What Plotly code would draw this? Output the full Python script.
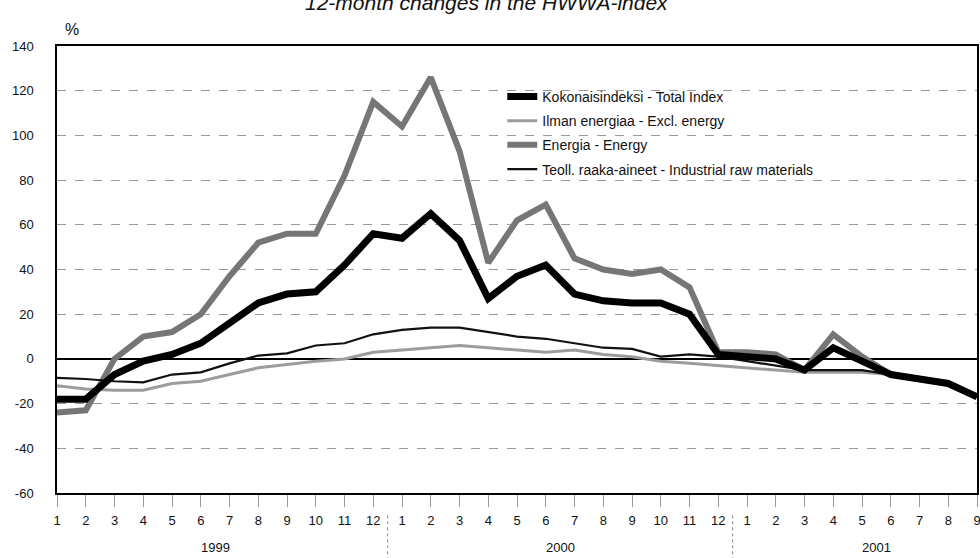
import plotly.graph_objects as go

month_labels = ["1","2","3","4","5","6","7","8","9","10","11","12",
                "1","2","3","4","5","6","7","8","9","10","11","12",
                "1","2","3","4","5","6","7","8","9"]
years = ["1999", "2000", "2001"]
y_ticks = [-60, -40, -20, 0, 20, 40, 60, 80, 100, 120, 140]

total_index = [-18, -18, -7, -1, 2, 7, 16, 25, 29, 30, 42, 56,
               54, 65, 53, 27, 37, 42, 29, 26, 25, 25, 20, 2,
               1, 0, -5, 5, -1, -7, -9, -11, -17]
excl_energy = [-12, -13.5, -14, -14, -11, -10, -7, -4, -2.5, -1, 0, 3,
               4, 5, 6, 5, 4, 3, 4, 2, 1, -1, -2, -3,
               -4, -5, -6, -6, -6, -7, -9, -11, -16]
energy = [-24, -23, 0, 10, 12, 20, 37, 52, 56, 56, 82, 115,
          104, 126, 93, 43, 62, 69, 45, 40, 38, 40, 32, 3,
          3, 2, -5, 11, 1, -7, -9, -11, -17]
industrial = [-8.5, -9, -10, -10.5, -7, -6, -2, 1.5, 2.5, 6, 7, 11,
              13, 14, 14, 12, 10, 9, 7, 5, 4.5, 1, 2, 1,
              -1, -3, -5, -5, -5, -7, -9, -11, -17]

names = ["Kokonaisindeksi - Total Index", "Ilman energiaa - Excl. energy",
         "Energia - Energy", "Teoll. raaka-aineet - Industrial raw materials"]

x = list(range(len(month_labels)))
font = "Liberation Sans, Arial, sans-serif"

fig = go.Figure()
fig.add_trace(go.Scatter(x=x, y=energy, name=names[2], mode="lines", legendgroup="c",
                         line=dict(color="#767676", width=6), legendrank=3))
fig.add_trace(go.Scatter(x=x, y=excl_energy, name=names[1], mode="lines", legendgroup="b",
                         line=dict(color="#9c9c9c", width=3), legendrank=2))
fig.add_trace(go.Scatter(x=x, y=industrial, name=names[3], mode="lines", legendgroup="d",
                         line=dict(color="#111111", width=2.2), legendrank=4))
fig.add_trace(go.Scatter(x=x, y=total_index, name=names[0], mode="lines", legendgroup="a",
                         line=dict(color="#000000", width=7), legendrank=1))

# year labels and separators
year_centers = [5.5, 17.5, 28.5]
for yr, xc in zip(years, year_centers):
    fig.add_annotation(x=xc, xref="x", y=-0.143, yref="paper", text=yr,
                       showarrow=False, font=dict(size=13, color="#111", family=font))
for xs in [11.5, 23.5]:
    fig.add_shape(type="line", xref="x", yref="paper", x0=xs, x1=xs, y0=-0.05, y1=-0.15,
                  line=dict(color="#888", width=1, dash="dot"))

fig.add_annotation(x=0.467, xref="paper", y=1.098, yref="paper", yanchor="middle",
                   text="<i>12-month changes in the HWWA-index</i>", showarrow=False,
                   font=dict(size=21, color="#111", family=font))
fig.add_annotation(x=0.006, xref="paper", y=1.036, yref="paper", text="%",
                   showarrow=False, xanchor="left", yanchor="middle",
                   font=dict(size=16, color="#111", family=font))

fig.update_layout(
    template="none",
    width=980, height=558,
    margin=dict(l=57, r=3, t=46, b=65, autoexpand=False),
    paper_bgcolor="white", plot_bgcolor="white",
    font=dict(family=font, size=13, color="#111"),
    showlegend=True,
    legend=dict(x=0.484, y=0.922, xanchor="left", yanchor="top",
                bgcolor="rgba(0,0,0,0)", font=dict(size=14, color="#111", family=font),
                itemwidth=30, traceorder="grouped", tracegroupgap=3),
)
fig.update_xaxes(range=[0, 32], tickvals=x, ticktext=month_labels, showgrid=False,
                 automargin=False, ticklabeloverflow="allow",
                 showline=True, linecolor="black", linewidth=1.5, mirror=True,
                 ticks="outside", ticklen=12, tickcolor="#999", tickwidth=1,
                 ticklabelstandoff=3,
                 tickfont=dict(size=13, color="#111"), zeroline=False)
fig.update_yaxes(range=[-60, 140], tickvals=y_ticks, ticktext=[str(v) for v in y_ticks],
                 automargin=False,
                 showgrid=True, gridcolor="#999", griddash="dash", gridwidth=1,
                 zeroline=True, zerolinecolor="black", zerolinewidth=1.5,
                 showline=True, linecolor="black", linewidth=1.5, mirror=True,
                 ticks="", ticklabelstandoff=19, tickfont=dict(size=13, color="#111"))

fig.write_html("out.html", config={"displayModeBar": False},
               post_script="document.body.style.margin='0';")
